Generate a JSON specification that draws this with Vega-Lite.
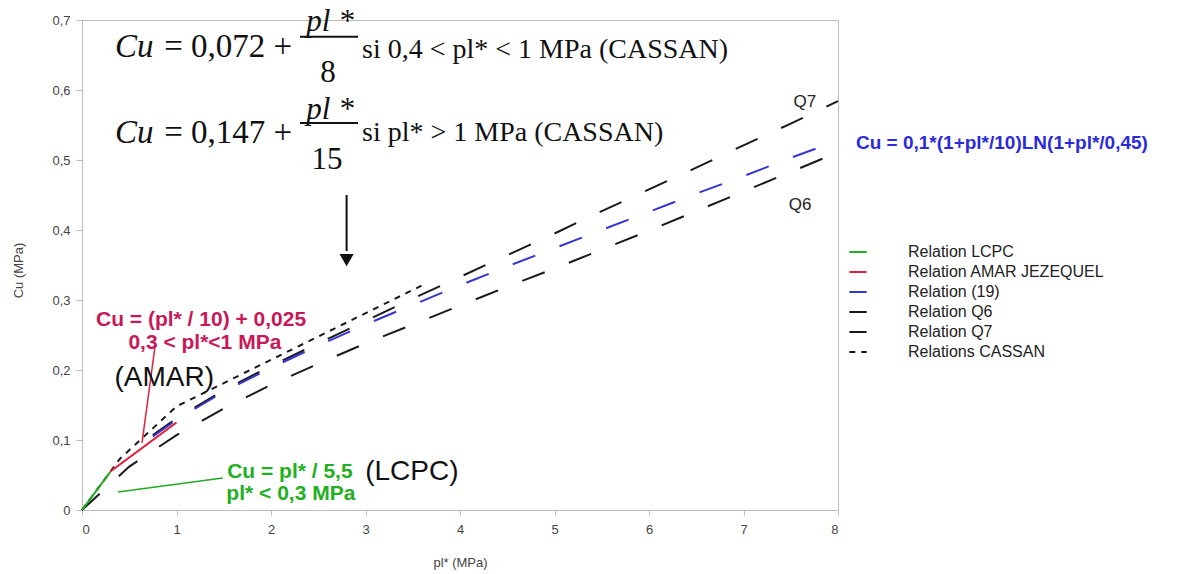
{
  "$schema": "https://vega.github.io/schema/vega-lite/v6.json",
  "width": 756,
  "height": 490,
  "autosize": "none",
  "padding": {"left": 82, "top": 20, "right": 360, "bottom": 64},
  "background": "white",
  "config": {
    "view": {"stroke": "#bbbbbb", "strokeWidth": 1},
    "axis": {"grid": false, "domainColor": "#bbbbbb", "tickColor": "#bbbbbb", "labelColor": "#444444", "labelFont": "Liberation Sans", "labelFontSize": 13, "titleFont": "Liberation Sans", "titleFontSize": 13, "titleFontWeight": "normal", "titleColor": "#444444"}
  },
  "datasets": {
    "curves": [
      {"s": "Relation Q6", "x": 0, "y": 0}, {"s": "Relation Q6", "x": 0.5, "y": 0.062}, {"s": "Relation Q6", "x": 1, "y": 0.107}, {"s": "Relation Q6", "x": 1.5, "y": 0.145}, {"s": "Relation Q6", "x": 2, "y": 0.179}, {"s": "Relation Q6", "x": 2.5, "y": 0.209}, {"s": "Relation Q6", "x": 3, "y": 0.238}, {"s": "Relation Q6", "x": 3.5, "y": 0.265}, {"s": "Relation Q6", "x": 4, "y": 0.292}, {"s": "Relation Q6", "x": 4.5, "y": 0.319}, {"s": "Relation Q6", "x": 5, "y": 0.345}, {"s": "Relation Q6", "x": 5.5, "y": 0.372}, {"s": "Relation Q6", "x": 6, "y": 0.399}, {"s": "Relation Q6", "x": 6.5, "y": 0.427}, {"s": "Relation Q6", "x": 7, "y": 0.455}, {"s": "Relation Q6", "x": 7.5, "y": 0.483}, {"s": "Relation Q6", "x": 8, "y": 0.511},
      {"s": "Relation Q7", "x": 0.75, "y": 0.107}, {"s": "Relation Q7", "x": 1, "y": 0.131}, {"s": "Relation Q7", "x": 1.5, "y": 0.171}, {"s": "Relation Q7", "x": 2, "y": 0.206}, {"s": "Relation Q7", "x": 2.5, "y": 0.238}, {"s": "Relation Q7", "x": 3, "y": 0.27}, {"s": "Relation Q7", "x": 3.5, "y": 0.302}, {"s": "Relation Q7", "x": 4, "y": 0.333}, {"s": "Relation Q7", "x": 4.5, "y": 0.364}, {"s": "Relation Q7", "x": 5, "y": 0.395}, {"s": "Relation Q7", "x": 5.5, "y": 0.427}, {"s": "Relation Q7", "x": 6, "y": 0.458}, {"s": "Relation Q7", "x": 6.5, "y": 0.489}, {"s": "Relation Q7", "x": 7, "y": 0.521}, {"s": "Relation Q7", "x": 7.5, "y": 0.552}, {"s": "Relation Q7", "x": 8, "y": 0.584},
      {"s": "Relation (19)", "x": 0.75, "y": 0.105}, {"s": "Relation (19)", "x": 1, "y": 0.129}, {"s": "Relation (19)", "x": 1.5, "y": 0.169}, {"s": "Relation (19)", "x": 2, "y": 0.203}, {"s": "Relation (19)", "x": 2.5, "y": 0.235}, {"s": "Relation (19)", "x": 3, "y": 0.265}, {"s": "Relation (19)", "x": 3.5, "y": 0.293}, {"s": "Relation (19)", "x": 4, "y": 0.321}, {"s": "Relation (19)", "x": 4.5, "y": 0.348}, {"s": "Relation (19)", "x": 5, "y": 0.374}, {"s": "Relation (19)", "x": 5.5, "y": 0.4}, {"s": "Relation (19)", "x": 6, "y": 0.426}, {"s": "Relation (19)", "x": 6.5, "y": 0.452}, {"s": "Relation (19)", "x": 7, "y": 0.477}, {"s": "Relation (19)", "x": 7.5, "y": 0.503}, {"s": "Relation (19)", "x": 8, "y": 0.528},
      {"s": "Relations CASSAN", "x": 0, "y": 0}, {"s": "Relations CASSAN", "x": 0.4, "y": 0.073}, {"s": "Relations CASSAN", "x": 1, "y": 0.148}, {"s": "Relations CASSAN", "x": 3.6, "y": 0.321},
      {"s": "Relation LCPC", "x": 0, "y": 0}, {"s": "Relation LCPC", "x": 0.3, "y": 0.0545},
      {"s": "Relation AMAR JEZEQUEL", "x": 0.3, "y": 0.055}, {"s": "Relation AMAR JEZEQUEL", "x": 1, "y": 0.125}
    ],
    "labels": [
      {"g": "fi", "t": "Cu", "x": 0.349, "y": 0.661},
      {"g": "fi", "t": "Cu", "x": 0.349, "y": 0.5386},
      {"g": "fl", "t": "= 0,072 +", "x": 0.87, "y": 0.661},
      {"g": "fl", "t": "= 0,147 +", "x": 0.87, "y": 0.5386},
      {"g": "fc", "t": "pl *", "x": 2.624, "y": 0.697},
      {"g": "fc", "t": "pl *", "x": 2.624, "y": 0.571},
      {"g": "fn", "t": "8", "x": 2.603, "y": 0.624},
      {"g": "fn", "t": "15", "x": 2.593, "y": 0.5},
      {"g": "si", "t": "si 0,4 < pl* < 1 MPa (CASSAN)", "x": 2.963, "y": 0.657},
      {"g": "si", "t": "si pl* > 1 MPa (CASSAN)", "x": 2.963, "y": 0.5386},
      {"g": "red", "t": "Cu = (pl* / 10) + 0,025", "x": 1.26, "y": 0.271},
      {"g": "red", "t": "0,3 < pl*<1 MPa", "x": 1.3, "y": 0.2386},
      {"g": "green", "t": "Cu = pl* / 5,5", "x": 2.2, "y": 0.0543},
      {"g": "green", "t": "pl* < 0,3 MPa", "x": 2.21, "y": 0.0229},
      {"g": "big", "t": "(AMAR)", "x": 0.87, "y": 0.1886},
      {"g": "big", "t": "(LCPC)", "x": 3.49, "y": 0.0543},
      {"g": "blue", "t": "Cu = 0,1*(1+pl*/10)LN(1+pl*/0,45)", "x": 8.19, "y": 0.524},
      {"g": "q", "t": "Q7", "x": 7.65, "y": 0.583},
      {"g": "q", "t": "Q6", "x": 7.6, "y": 0.436}
    ],
    "rules": [
      {"g": "black", "x": 2.307, "x2": 2.921, "y": 0.676, "y2": 0.676},
      {"g": "black", "x": 2.307, "x2": 2.921, "y": 0.553, "y2": 0.553},
      {"g": "black", "x": 2.8, "x2": 2.8, "y": 0.45, "y2": 0.37},
      {"g": "red", "x": 0.77, "x2": 0.635, "y": 0.231, "y2": 0.096},
      {"g": "green", "x": 1.49, "x2": 0.38, "y": 0.0457, "y2": 0.0257}
    ],
    "arrow": [{"x": 2.8, "y": 0.357}]
  },
  "layer": [
    {
      "data": {"name": "curves"},
      "transform": [{"filter": "datum.s === 'Relation Q6' || datum.s === 'Relation Q7'"}],
      "mark": {"type": "line"},
      "encoding": {
        "x": {"field": "x", "type": "quantitative", "scale": {"domain": [0, 8], "nice": false}, "axis": {"title": "pl* (MPa)", "values": [0,1,2,3,4,5,6,7,8], "format": "d", "tickSize": 5, "labelPadding": 8, "titleX": 378, "titleY": 52, "titleBaseline": "middle"}},
        "y": {"field": "y", "type": "quantitative", "scale": {"domain": [0, 0.7], "nice": false}, "axis": {"title": "Cu (MPa)", "values": [0,0.1,0.2,0.3,0.4,0.5,0.6,0.7], "labelExpr": "datum.value == 0 ? '0' : replace(format(datum.value, '.1f'), '.', ',')", "tickSize": 6, "labelPadding": 6, "titleX": -64, "titleY": 250, "titleAngle": -90, "titleBaseline": "middle"}},
        "color": {"field": "s", "type": "nominal", "scale": {"domain": ["Relation LCPC","Relation AMAR JEZEQUEL","Relation (19)","Relation Q6","Relation Q7","Relations CASSAN"], "range": ["#22aa22","#e0203c","#3535d0","#1a1a1a","#1a1a1a","#1a1a1a"]},
          "legend": {"title": null, "orient": "none", "legendX": 766, "legendY": 222, "padding": 0, "symbolType": "stroke", "symbolSize": 300, "labelFont": "Liberation Sans", "labelFontSize": 16, "labelColor": "#222222", "labelOffset": 40, "labelLimit": 500, "rowPadding": 2}},
        "strokeDash": {"field": "s", "type": "nominal", "scale": {"domain": ["Relation LCPC","Relation AMAR JEZEQUEL","Relation (19)","Relation Q6","Relation Q7","Relations CASSAN"], "range": [[1,0],[1,0],[24,26],[24,26],[24,26],[6,6]]}},
        "strokeWidth": {"field": "s", "type": "nominal", "scale": {"domain": ["Relation LCPC","Relation AMAR JEZEQUEL","Relation (19)","Relation Q6","Relation Q7","Relations CASSAN"], "range": [2,2,2.5,2.5,2.5,2]}}
      }
    },
    {
      "data": {"name": "curves"},
      "transform": [{"filter": "datum.s === 'Relation (19)'"}],
      "mark": {"type": "line"},
      "encoding": {
        "x": {"field": "x", "type": "quantitative"},
        "y": {"field": "y", "type": "quantitative"},
        "color": {"field": "s", "type": "nominal"},
        "strokeDash": {"field": "s", "type": "nominal"},
        "strokeWidth": {"field": "s", "type": "nominal"}
      }
    },
    {
      "data": {"name": "curves"},
      "transform": [{"filter": "datum.s === 'Relations CASSAN'"}],
      "mark": {"type": "line"},
      "encoding": {
        "x": {"field": "x", "type": "quantitative"},
        "y": {"field": "y", "type": "quantitative"},
        "color": {"field": "s", "type": "nominal"},
        "strokeDash": {"field": "s", "type": "nominal"},
        "strokeWidth": {"field": "s", "type": "nominal"}
      }
    },
    {
      "data": {"name": "curves"},
      "transform": [{"filter": "datum.s === 'Relation LCPC' || datum.s === 'Relation AMAR JEZEQUEL'"}],
      "mark": {"type": "line"},
      "encoding": {
        "x": {"field": "x", "type": "quantitative"},
        "y": {"field": "y", "type": "quantitative"},
        "color": {"field": "s", "type": "nominal"},
        "strokeDash": {"field": "s", "type": "nominal"},
        "strokeWidth": {"field": "s", "type": "nominal"}
      }
    },
    {
      "data": {"name": "rules"},
      "transform": [{"filter": "datum.g === 'black'"}],
      "mark": {"type": "rule", "color": "#111111", "strokeWidth": 2},
      "encoding": {"x": {"field": "x", "type": "quantitative"}, "x2": {"field": "x2"}, "y": {"field": "y", "type": "quantitative"}, "y2": {"field": "y2"}}
    },
    {
      "data": {"name": "rules"},
      "transform": [{"filter": "datum.g === 'red'"}],
      "mark": {"type": "rule", "color": "#e0203c", "strokeWidth": 1.5},
      "encoding": {"x": {"field": "x", "type": "quantitative"}, "x2": {"field": "x2"}, "y": {"field": "y", "type": "quantitative"}, "y2": {"field": "y2"}}
    },
    {
      "data": {"name": "rules"},
      "transform": [{"filter": "datum.g === 'green'"}],
      "mark": {"type": "rule", "color": "#22aa22", "strokeWidth": 1.5},
      "encoding": {"x": {"field": "x", "type": "quantitative"}, "x2": {"field": "x2"}, "y": {"field": "y", "type": "quantitative"}, "y2": {"field": "y2"}}
    },
    {
      "data": {"name": "arrow"},
      "mark": {"type": "point", "shape": "triangle-down", "filled": true, "color": "#111111", "size": 200, "opacity": 1},
      "encoding": {"x": {"field": "x", "type": "quantitative"}, "y": {"field": "y", "type": "quantitative"}}
    },
    {
      "data": {"name": "labels"},
      "transform": [{"filter": "datum.g === 'fi'"}],
      "mark": {"type": "text", "font": "Liberation Serif", "fontStyle": "italic", "fontSize": 33, "align": "left", "baseline": "middle", "color": "#111111"},
      "encoding": {"x": {"field": "x", "type": "quantitative"}, "y": {"field": "y", "type": "quantitative"}, "text": {"field": "t"}}
    },
    {
      "data": {"name": "labels"},
      "transform": [{"filter": "datum.g === 'fl'"}],
      "mark": {"type": "text", "font": "Liberation Serif", "fontSize": 33, "align": "left", "baseline": "middle", "color": "#111111"},
      "encoding": {"x": {"field": "x", "type": "quantitative"}, "y": {"field": "y", "type": "quantitative"}, "text": {"field": "t"}}
    },
    {
      "data": {"name": "labels"},
      "transform": [{"filter": "datum.g === 'fc'"}],
      "mark": {"type": "text", "font": "Liberation Serif", "fontStyle": "italic", "fontSize": 31, "align": "center", "baseline": "middle", "color": "#111111"},
      "encoding": {"x": {"field": "x", "type": "quantitative"}, "y": {"field": "y", "type": "quantitative"}, "text": {"field": "t"}}
    },
    {
      "data": {"name": "labels"},
      "transform": [{"filter": "datum.g === 'fn'"}],
      "mark": {"type": "text", "font": "Liberation Serif", "fontSize": 31, "align": "center", "baseline": "middle", "color": "#111111"},
      "encoding": {"x": {"field": "x", "type": "quantitative"}, "y": {"field": "y", "type": "quantitative"}, "text": {"field": "t"}}
    },
    {
      "data": {"name": "labels"},
      "transform": [{"filter": "datum.g === 'si'"}],
      "mark": {"type": "text", "font": "Liberation Serif", "fontSize": 28, "align": "left", "baseline": "middle", "color": "#111111"},
      "encoding": {"x": {"field": "x", "type": "quantitative"}, "y": {"field": "y", "type": "quantitative"}, "text": {"field": "t"}}
    },
    {
      "data": {"name": "labels"},
      "transform": [{"filter": "datum.g === 'red'"}],
      "mark": {"type": "text", "font": "Liberation Sans", "fontWeight": "bold", "fontSize": 21, "align": "center", "baseline": "middle", "color": "#c8185a"},
      "encoding": {"x": {"field": "x", "type": "quantitative"}, "y": {"field": "y", "type": "quantitative"}, "text": {"field": "t"}}
    },
    {
      "data": {"name": "labels"},
      "transform": [{"filter": "datum.g === 'green'"}],
      "mark": {"type": "text", "font": "Liberation Sans", "fontWeight": "bold", "fontSize": 21, "align": "center", "baseline": "middle", "color": "#22b022"},
      "encoding": {"x": {"field": "x", "type": "quantitative"}, "y": {"field": "y", "type": "quantitative"}, "text": {"field": "t"}}
    },
    {
      "data": {"name": "labels"},
      "transform": [{"filter": "datum.g === 'big'"}],
      "mark": {"type": "text", "font": "Liberation Sans", "fontSize": 28, "align": "center", "baseline": "middle", "color": "#111111"},
      "encoding": {"x": {"field": "x", "type": "quantitative"}, "y": {"field": "y", "type": "quantitative"}, "text": {"field": "t"}}
    },
    {
      "data": {"name": "labels"},
      "transform": [{"filter": "datum.g === 'blue'"}],
      "mark": {"type": "text", "font": "Liberation Sans", "fontWeight": "bold", "fontSize": 19, "align": "left", "baseline": "middle", "color": "#2b2bd9"},
      "encoding": {"x": {"field": "x", "type": "quantitative"}, "y": {"field": "y", "type": "quantitative"}, "text": {"field": "t"}}
    },
    {
      "data": {"name": "labels"},
      "transform": [{"filter": "datum.g === 'q'"}],
      "mark": {"type": "text", "font": "Liberation Sans", "fontSize": 17, "align": "center", "baseline": "middle", "color": "#222222"},
      "encoding": {"x": {"field": "x", "type": "quantitative"}, "y": {"field": "y", "type": "quantitative"}, "text": {"field": "t"}}
    }
  ]
}
